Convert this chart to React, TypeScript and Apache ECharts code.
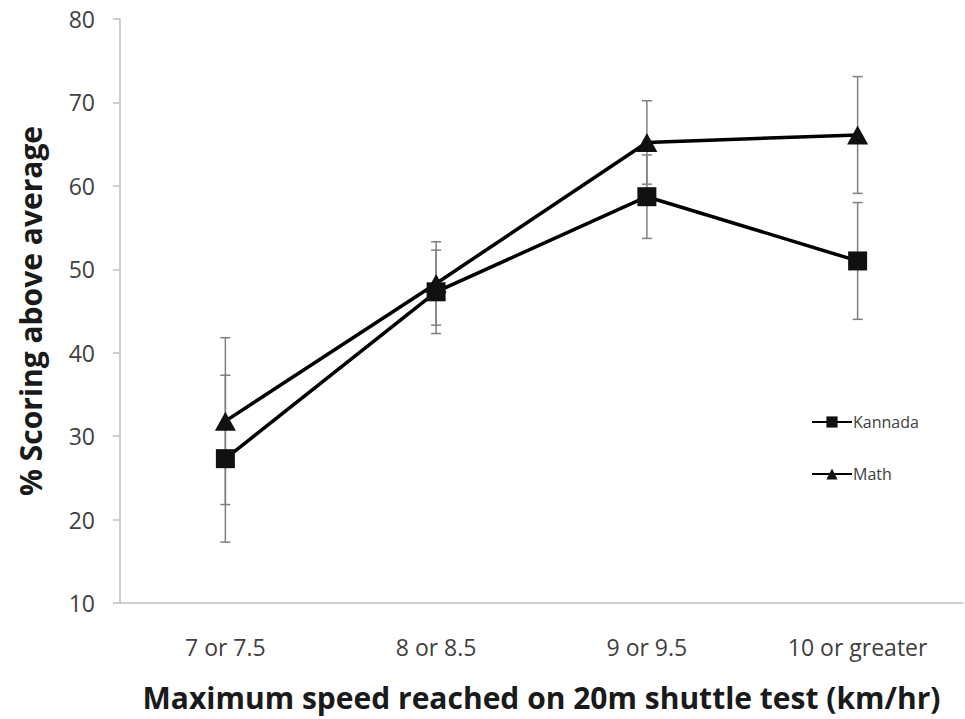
import React, { useEffect, useRef } from "react";
import * as echarts from "echarts";

const categories = ["7 or 7.5", "8 or 8.5", "9 or 9.5", "10 or greater"];
const kannada = [27.3, 47.3, 58.7, 51.0];
const kannadaErr = [10, 5, 5, 7];
const math = [31.8, 48.3, 65.2, 66.1];
const mathErr = [10, 5, 5, 7];
const yTicks = { min: 10, max: 80, interval: 10 };

const FONT = "'Open Sans', 'Liberation Sans', sans-serif";

function errData(vals: number[], errs: number[]) {
  return vals.map((v, i) => [i, v - errs[i], v + errs[i]]);
}

function errSeries(name: string, vals: number[], errs: number[]) {
  return {
    type: "custom",
    name: name + " err",
    silent: true,
    z: 1,
    data: errData(vals, errs),
    encode: { x: 0, y: [1, 2] },
    renderItem: (params: any, api: any) => {
      const x = api.value(0);
      const lo = api.coord([x, api.value(1)]);
      const hi = api.coord([x, api.value(2)]);
      const cap = 5;
      const style = { stroke: "#7f7f7f", lineWidth: 1.5 };
      return {
        type: "group",
        children: [
          { type: "line", shape: { x1: lo[0], y1: lo[1], x2: hi[0], y2: hi[1] }, style },
          { type: "line", shape: { x1: lo[0] - cap, y1: lo[1], x2: lo[0] + cap, y2: lo[1] }, style },
          { type: "line", shape: { x1: hi[0] - cap, y1: hi[1], x2: hi[0] + cap, y2: hi[1] }, style },
        ],
      };
    },
  };
}

export default function App() {
  const ref = useRef<HTMLDivElement>(null);
  useEffect(() => {
    if (!ref.current) return;
    const chart = echarts.init(ref.current, null, { renderer: "svg" });
    chart.setOption({
      animation: false,
      backgroundColor: "#ffffff",
      grid: { left: 120, right: 2, top: 19, bottom: 116 },
      legend: {
        orient: "vertical",
        left: 806,
        top: 409,
        itemGap: 36,
        itemWidth: 40,
        itemHeight: 14,
        data: ["Kannada", "Math"],
        textStyle: { fontFamily: FONT, fontSize: 16, color: "#404040", padding: [0, 0, 0, -4] },
      },
      xAxis: {
        type: "category",
        data: categories,
        boundaryGap: true,
        axisLine: { lineStyle: { color: "#bfbfbf", width: 1.5 } },
        axisTick: { show: false },
        axisLabel: { fontFamily: FONT, fontSize: 23, color: "#404040", margin: 32 },
        name: "Maximum speed reached on 20m shuttle test (km/hr)",
        nameLocation: "middle",
        nameGap: 79,
        nameTextStyle: { fontFamily: FONT, fontSize: 30, fontWeight: "bold", color: "#1a1a1a" },
      },
      yAxis: {
        type: "value",
        min: yTicks.min,
        max: yTicks.max,
        interval: yTicks.interval,
        splitLine: { show: false },
        axisLine: { show: true, lineStyle: { color: "#bfbfbf", width: 1.5 } },
        axisTick: { show: true, length: 7, lineStyle: { color: "#bfbfbf", width: 1.5 } },
        axisLabel: { fontFamily: FONT, fontSize: 23, color: "#404040", margin: 25 },
        name: "% Scoring above average",
        nameLocation: "middle",
        nameGap: 75,
        nameRotate: 90,
        nameTextStyle: { fontFamily: FONT, fontSize: 30, fontWeight: "bold", color: "#1a1a1a" },
      },
      series: [
        errSeries("Kannada", kannada, kannadaErr),
        errSeries("Math", math, mathErr),
        {
          name: "Kannada",
          type: "line",
          data: kannada,
          symbol: "rect",
          symbolSize: 19,
          z: 3,
          lineStyle: { color: "#000000", width: 3.5 },
          itemStyle: { color: "#111111" },
        },
        {
          name: "Math",
          type: "line",
          data: math,
          symbol: "triangle",
          symbolSize: [21, 19],
          z: 3,
          lineStyle: { color: "#000000", width: 3.5 },
          itemStyle: { color: "#111111" },
        },
      ],
    });
    return () => chart.dispose();
  }, []);
  return <div ref={ref} style={{ width: 965, height: 719, position: "absolute", left: 0, top: 0 }} />;
}
